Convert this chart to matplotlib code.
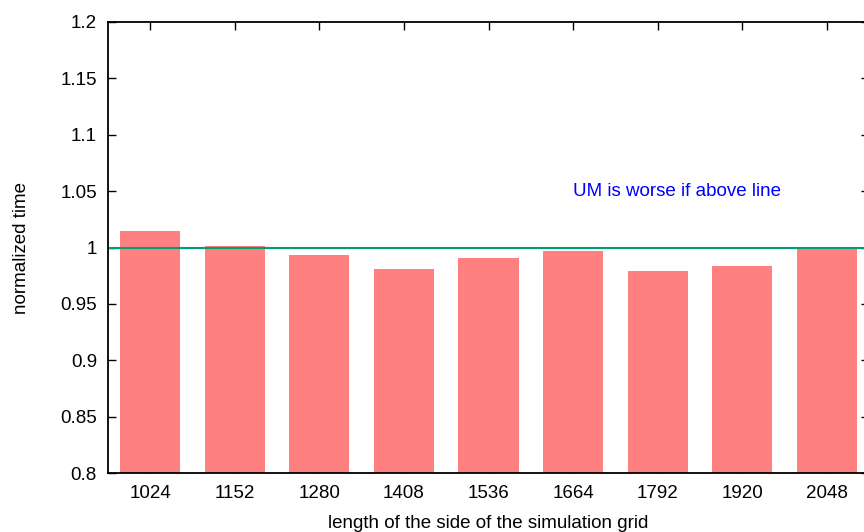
import matplotlib.pyplot as plt

plt.rcParams['font.family'] = ['Liberation Sans', 'DejaVu Sans']

sizes = ["1024", "1152", "1280", "1408", "1536", "1664", "1792", "1920", "2048"]
norm_time = [1.0146, 1.0013, 0.9934, 0.9809, 0.9907, 0.9969, 0.9792, 0.9836, 0.9994]
y_ticks = [0.8, 0.85, 0.9, 0.95, 1, 1.05, 1.1, 1.15, 1.2]
y_tick_labels = ["0.8", "0.85", "0.9", "0.95", "1", "1.05", "1.1", "1.15", "1.2"]

fs = 13.5

fig = plt.figure(figsize=(8.64, 5.32), dpi=100)
ax = fig.add_axes([108 / 864, 59 / 532, 761 / 864, 451 / 532])
ax.set_axisbelow(True)

xs = list(range(len(sizes)))
ax.bar(xs, norm_time, width=0.71, color="#ff8080", zorder=1)
ax.axhline(1.0, color="#009e73", linewidth=1.5, zorder=2)

ax.text(5.0, 1.05, "UM is worse if above line", color="blue", fontsize=fs,
        ha="left", va="center")

ax.set_xlim(-0.5, len(sizes) - 0.5)
ax.set_ylim(0.8, 1.2)
ax.set_xticks(xs)
ax.set_xticklabels(sizes)
ax.set_yticks(y_ticks)
ax.set_yticklabels(y_tick_labels)

ax.tick_params(direction="in", top=True, right=True, length=6, width=1,
               labelsize=fs, colors="black")
ax.tick_params(axis="y", pad=8)
ax.tick_params(axis="x", pad=9)
for s in ax.spines.values():
    s.set_linewidth(1.3)

ax.set_xlabel("length of the side of the simulation grid", fontsize=fs, labelpad=9)
ax.set_ylabel("normalized time", fontsize=fs, labelpad=22)

fig.savefig("out.png", dpi=100)
